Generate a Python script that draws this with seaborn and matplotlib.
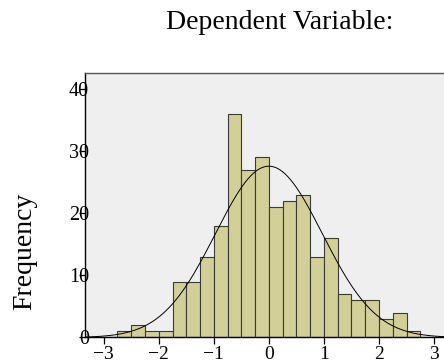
import matplotlib
matplotlib.use('Agg')
import numpy as np
import matplotlib.pyplot as plt
import seaborn as sns

# histogram of residuals, bins of 0.25
bin_edges = [-3.0, -2.75, -2.5, -2.25, -2.0, -1.75, -1.5, -1.25, -1.0, -0.75, -0.5, -0.25,
             0.0, 0.25, 0.5, 0.75, 1.0, 1.25, 1.5, 1.75, 2.0, 2.25, 2.5, 2.75, 3.0]
counts = [0, 1, 2, 1, 1, 9, 9, 13, 18, 36, 27, 29,
          21, 22, 23, 13, 16, 7, 6, 6, 3, 4, 1, 0]

# fitted normal curve
curve_mean = 0.0
curve_sd = 0.97

x_ticks = [-3, -2, -1, 0, 1, 2, 3]
y_ticks = [0, 10, 20, 30, 40]

sns.set_style('white')
plt.rcParams['font.family'] = ['Liberation Serif', 'DejaVu Serif']
plt.rcParams['text.color'] = 'black'
plt.rcParams['axes.labelcolor'] = 'black'
plt.rcParams['xtick.color'] = 'black'
plt.rcParams['ytick.color'] = 'black'

edges = np.array(bin_edges)
centers = (edges[:-1] + edges[1:]) / 2
bin_width = edges[1] - edges[0]
n_total = sum(counts)

fig = plt.figure(figsize=(4.44, 3.62), dpi=100)
ax = fig.add_axes([0.1914, 0.0677, 0.8086, 0.7315])
ax.set_facecolor('#efefef')

sns.histplot(x=centers, weights=counts, bins=bin_edges, color='#d3cf98',
             edgecolor='#3a3a3a', linewidth=0.8, alpha=1, ax=ax)

xs = np.linspace(-3.4, 3.3, 400)
ys = n_total * bin_width * np.exp(-0.5 * ((xs - curve_mean) / curve_sd) ** 2) / (curve_sd * np.sqrt(2 * np.pi))
sns.lineplot(x=xs, y=ys, color='black', linewidth=0.7, ax=ax)

ax.set_xlim(-3.34, 3.18)
ax.set_ylim(0, 42.6)
ax.set_xticks(x_ticks)
ax.set_yticks(y_ticks)
ax.set_xticklabels([f'\u2212{abs(t)}' if t < 0 else str(t) for t in x_ticks])
ax.tick_params(axis='x', direction='out', length=5, width=0.9, pad=1, labelsize=14, bottom=True)
ax.tick_params(axis='y', direction='out', length=4, width=0.9, pad=-7, labelsize=14.5, left=True)

for side in ['left', 'bottom']:
    ax.spines[side].set_color('black')
    ax.spines[side].set_linewidth(1.0)
ax.spines['top'].set_color('#555555')
ax.spines['top'].set_linewidth(1.0)
ax.spines['right'].set_visible(False)

ax.set_xlabel('')
ax.set_ylabel('Frequency', fontsize=20)
ax.yaxis.set_label_coords(-0.133, 0.327)

fig.text(279.5 / 444, 1 - 29.3 / 362, 'Dependent Variable:', ha='center', va='baseline', fontsize=20)

fig.savefig('out.png', dpi=100)
